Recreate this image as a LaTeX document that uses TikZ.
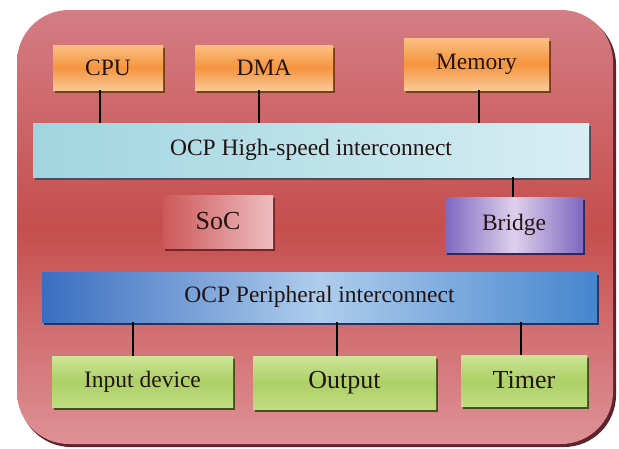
\documentclass[tikz,border=0pt]{standalone}
\usepackage{fontspec}
\setmainfont{Liberation Serif}
\usetikzlibrary{shadows,calc}

\definecolor{frametop}{RGB}{212,125,132}
\definecolor{framemid}{RGB}{198,78,78}
\definecolor{framebot}{RGB}{222,145,150}
\definecolor{frameedge}{RGB}{95,35,45}
\definecolor{txt}{RGB}{35,20,20}
\definecolor{orgtop}{RGB}{250,192,130}
\definecolor{orgmid}{RGB}{245,148,62}
\definecolor{orgbot}{RGB}{250,200,150}
\definecolor{orgshadow}{RGB}{120,62,25}
\definecolor{cyanl}{RGB}{160,213,224}
\definecolor{cyanr}{RGB}{215,238,243}
\definecolor{cyanshadow}{RGB}{75,78,90}
\definecolor{soclt}{RGB}{205,88,90}
\definecolor{socrt}{RGB}{238,190,192}
\definecolor{socshadow}{RGB}{120,35,40}
\definecolor{brside}{RGB}{125,105,192}
\definecolor{brmid}{RGB}{222,208,236}
\definecolor{brshadow}{RGB}{50,40,90}
\definecolor{blul}{RGB}{58,110,192}
\definecolor{blum}{RGB}{175,205,236}
\definecolor{blur}{RGB}{70,133,206}
\definecolor{blushadow}{RGB}{40,50,95}
\definecolor{grntop}{RGB}{205,228,150}
\definecolor{grnmid}{RGB}{172,208,102}
\definecolor{grnbot}{RGB}{192,222,130}
\definecolor{grnshadow}{RGB}{70,80,30}

\tikzset{
  blk/.style={rectangle, inner sep=0pt, text=txt,
    font=\fontsize{23.5}{26}\selectfont,
    drop shadow={shadow xshift=2pt, shadow yshift=-3pt, fill=#1, opacity=1}},
  orangebox/.style={blk=orgshadow, top color=orgtop, bottom color=orgbot, middle color=orgmid},
  greenbox/.style={blk=grnshadow, top color=grntop, bottom color=grnbot, middle color=grnmid},
  hsbus/.style={blk=cyanshadow, left color=cyanl, right color=cyanr},
  pbus/.style={blk=blushadow, left color=blul, right color=blur, middle color=blum},
  socbox/.style={blk=socshadow, left color=soclt, right color=socrt},
  bridgebox/.style={blk=brshadow, left color=brside, right color=brside, middle color=brmid},
  big/.style={font=\fontsize{26}{28}\selectfont},
  wire/.style={draw=black, line width=1.2pt}
}

\begin{document}
\begin{tikzpicture}[x=1pt,y=-1pt]
\useasboundingbox (0,0) rectangle (619,448);

% outer SoC frame with its dark edge
\fill[frameedge, rounded corners=52pt] (19,13) rectangle (616,447);
\shade[rounded corners=52pt, top color=frametop, bottom color=framebot, middle color=framemid]
  (17,10) rectangle (613,444);

% masters on the high-speed side
\node[orangebox, minimum width=110pt, minimum height=45pt] (cpu) at (108,67.5) {CPU};
\node[orangebox, minimum width=138pt, minimum height=45pt] (dma) at (264,67.5) {DMA};
\node[orangebox, minimum width=145pt, minimum height=52pt] (mem) at (476.5,64) {Memory};

% high-speed interconnect
\node[hsbus, minimum width=556pt, minimum height=54pt] (hs) at (311,150) {OCP High-speed interconnect};

% SoC label and bridge
\node[socbox, big, minimum width=110pt, minimum height=53pt] (soc) at (218,221.5) {SoC};
\node[bridgebox, minimum width=138pt, minimum height=55pt] (br) at (514,224.5) {Bridge};

% peripheral interconnect
\node[pbus, minimum width=555pt, minimum height=50pt] (pb) at (319.5,297) {OCP Peripheral interconnect};

% peripherals
\node[greenbox, minimum width=181pt, minimum height=51pt] (inp) at (142.5,381.5) {Input device};
\node[greenbox, big, minimum width=183pt, minimum height=53pt] (out) at (344.5,382.5) {Output};
\node[greenbox, big, minimum width=126pt, minimum height=51pt] (tim) at (524,380.5) {Timer};

% connectors
\coordinate (c1) at ([xshift=-8pt]cpu.south);
\coordinate (c2) at ([xshift=-5pt]dma.south);
\coordinate (c3) at ([xshift=2.5pt]mem.south);
\coordinate (c4) at ([xshift=-1pt]br.north);
\coordinate (c5) at ([xshift=-9.5pt]inp.north);
\coordinate (c6) at ([xshift=-7.5pt]out.north);
\coordinate (c7) at ([xshift=-3pt]tim.north);
\draw[wire] (c1) -- (c1 |- hs.north);
\draw[wire] (c2) -- (c2 |- hs.north);
\draw[wire] (c3) -- (c3 |- hs.north);
\draw[wire] (c4) -- (c4 |- hs.south);
\draw[wire] (c5) -- (c5 |- pb.south);
\draw[wire] (c6) -- (c6 |- pb.south);
\draw[wire] (c7) -- (c7 |- pb.south);
\end{tikzpicture}
\end{document}
